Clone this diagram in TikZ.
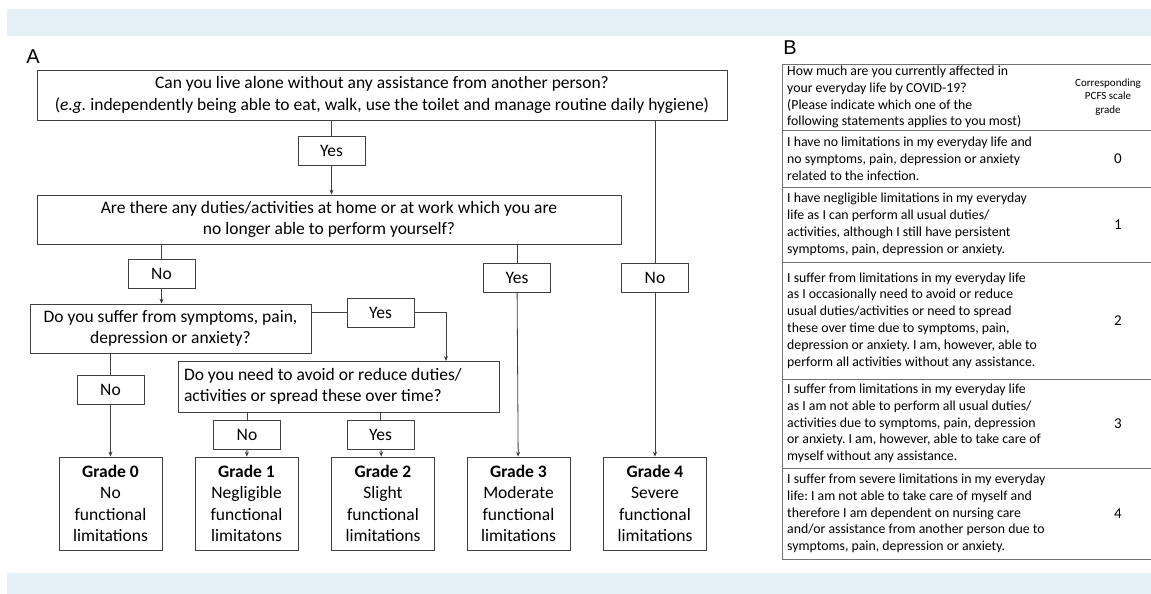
\documentclass[tikz,border=0pt]{standalone}
\usepackage{fontspec}
\setmainfont{Carlito}
\newfontfamily\panelfont{Liberation Sans}
\usetikzlibrary{arrows.meta}
\definecolor{band}{HTML}{E3F1F7}
\frenchspacing

\begin{document}
\begin{tikzpicture}[x=1pt,y=-1pt,>={Stealth[length=5pt,width=4pt]},
    box/.style={draw=black!75,line width=0.8pt,inner sep=0pt,align=center},
    qbox/.style={box,font=\fontsize{17.5}{21.5}\selectfont},
    ans/.style={box,minimum width=67pt,minimum height=29pt,font=\fontsize{17.5}{20}\selectfont},
    grade/.style={box,minimum width=103pt,minimum height=93pt,font=\fontsize{17.5}{21.3}\selectfont},
    line/.style={draw=black!75,line width=0.8pt},
    rowtext/.style={anchor=west,align=flush left,inner sep=0pt,font=\fontsize{13.8}{16.8}\selectfont},
    num/.style={font=\fontsize{15}{18}\selectfont}]
   \useasboundingbox (0,0) rectangle (1151,594);
   \fill[band] (7,9) rectangle (1151,36);
   \fill[band] (7,573) rectangle (1151,594);

   % panel A
   \node[font=\panelfont\fontsize{20}{20}\selectfont] (A) at (33,57) {A};
   \node[qbox,minimum width=690pt,minimum height=50pt] (q1) at (382,95)
      {Can you live alone without any assistance from another person?\\
       (\textit{e.g.} independently being able to eat, walk, use the toilet and manage routine daily hygiene)};
   \node[ans] (yes1) at (331.5,151) {Yes};
   \node[qbox,minimum width=584pt,minimum height=49pt] (q2) at (329,219.5)
      {Are there any duties/activities at home or at work which you are\\
       no longer able to perform yourself?};
   \node[ans] (no2) at (161.5,273.5) {No};
   \node[ans] (yes2) at (517,277.5) {Yes};
   \node[ans] (no1) at (655,277.5) {No};
   \node[qbox,minimum width=281pt,minimum height=49pt] (q3) at (170.5,328.5)
      {Do you suffer from symptoms, pain,\\ depression or anxiety?};
   \node[ans] (yes3) at (380.5,312.5) {Yes};
   \node[qbox,minimum width=321pt,minimum height=51pt,text width=309pt,align=flush left] (q4) at (338.5,386.5)
      {Do you need to avoid or reduce duties/\\ activities or spread these over time?};
   \coordinate (q4in) at (446,361);
   \node[ans] (no3) at (110.5,389.5) {No};
   \node[ans] (no4) at (247,434.5) {No};
   \node[ans] (yes4) at (380.5,434.5) {Yes};
   \node[grade] (g0) at (110.5,503.5) {\textbf{Grade 0}\\No\\functional\\limitations};
   \node[grade] (g1) at (246.5,503.5) {\textbf{Grade 1}\\Negligible\\functional\\limitatons};
   \node[grade] (g2) at (383,503.5) {\textbf{Grade 2}\\Slight\\functional\\limitations};
   \node[grade] (g3) at (518.5,503.5) {\textbf{Grade 3}\\Moderate\\functional\\limitations};
   \node[grade] (g4) at (655,503.5) {\textbf{Grade 4}\\Severe\\functional\\limitations};

   \path[line]
    (q1.south -| yes1) edge (yes1)
    (yes1) edge[->] (yes1 |- q2.north)
    (q1.south -| no1) edge (no1)
    (no1) edge[->] (g4)
    (q2.south -| yes2) edge (yes2)
    (yes2) edge[->] (g3)
    (q2.south -| no2) edge (no2)
    (no2) edge[->] (no2 |- q3.north)
    (q3.east |- yes3) edge (yes3)
    (q3.south -| no3) edge (no3)
    (no3) edge[->] (g0)
    (q4.south -| no4) edge (no4)
    (no4) edge[->] (g1)
    (q4.south -| yes4) edge (yes4)
    (yes4) edge[->] (g2);
   \draw[line,->] (yes3.east) -| (q4in);

   % panel B
   \node[font=\panelfont\fontsize{20}{20}\selectfont] (B) at (790,48) {B};
   \draw[draw=black!55,line width=0.8pt] (1151,64) -- (782,64) -- (782,559) -- (1151,559);
   \draw[draw=black!55,line width=0.8pt] (782,130) -- (1151,130) (782,187) -- (1151,187)
      (782,262) -- (1151,262) (782,379) -- (1151,379) (782,468) -- (1151,468);
   \node[rowtext] (h) at (787,97) {How much are you currently affected in\\ your everyday life by COVID-19?\\
      (Please indicate which one of the\\ following statements applies to you most)};
   \node[align=center,font=\fontsize{11}{13.5}\selectfont] (hg) at (1108,97) {Corresponding\\ PCFS scale\\ grade};
   \node[rowtext] (r0) at (787,158.5) {I have no limitations in my everyday life and\\
      no symptoms, pain, depression or anxiety\\ related to the infection.};
   \node[num] (n0) at (1118,158.5) {0};
   \node[rowtext] (r1) at (787,224.5) {I have negligible limitations in my everyday\\
      life as I can perform all usual duties/\\ activities, although I still have persistent\\
      symptoms, pain, depression or anxiety.};
   \node[num] (n1) at (1118,224.5) {1};
   \node[rowtext] (r2) at (787,320.5) {I suffer from limitations in my everyday life\\
      as I occasionally need to avoid or reduce\\ usual duties/activities or need to spread\\
      these over time due to symptoms, pain,\\ depression or anxiety. I am, however, able to\\
      perform all activities without any assistance.};
   \node[num] (n2) at (1118,320.5) {2};
   \node[rowtext] (r3) at (787,423.5) {I suffer from limitations in my everyday life\\
      as I am not able to perform all usual duties/\\ activities due to symptoms, pain, depression\\
      or anxiety. I am, however, able to take care of\\ myself without any assistance.};
   \node[num] (n3) at (1118,423.5) {3};
   \node[rowtext] (r4) at (787,513.5) {I suffer from severe limitations in my everyday\\
      life: I am not able to take care of myself and\\ therefore I am dependent on nursing care\\
      and/or assistance from another person due to\\ symptoms, pain, depression or anxiety.};
   \node[num] (n4) at (1118,513.5) {4};
\end{tikzpicture}
\end{document}
